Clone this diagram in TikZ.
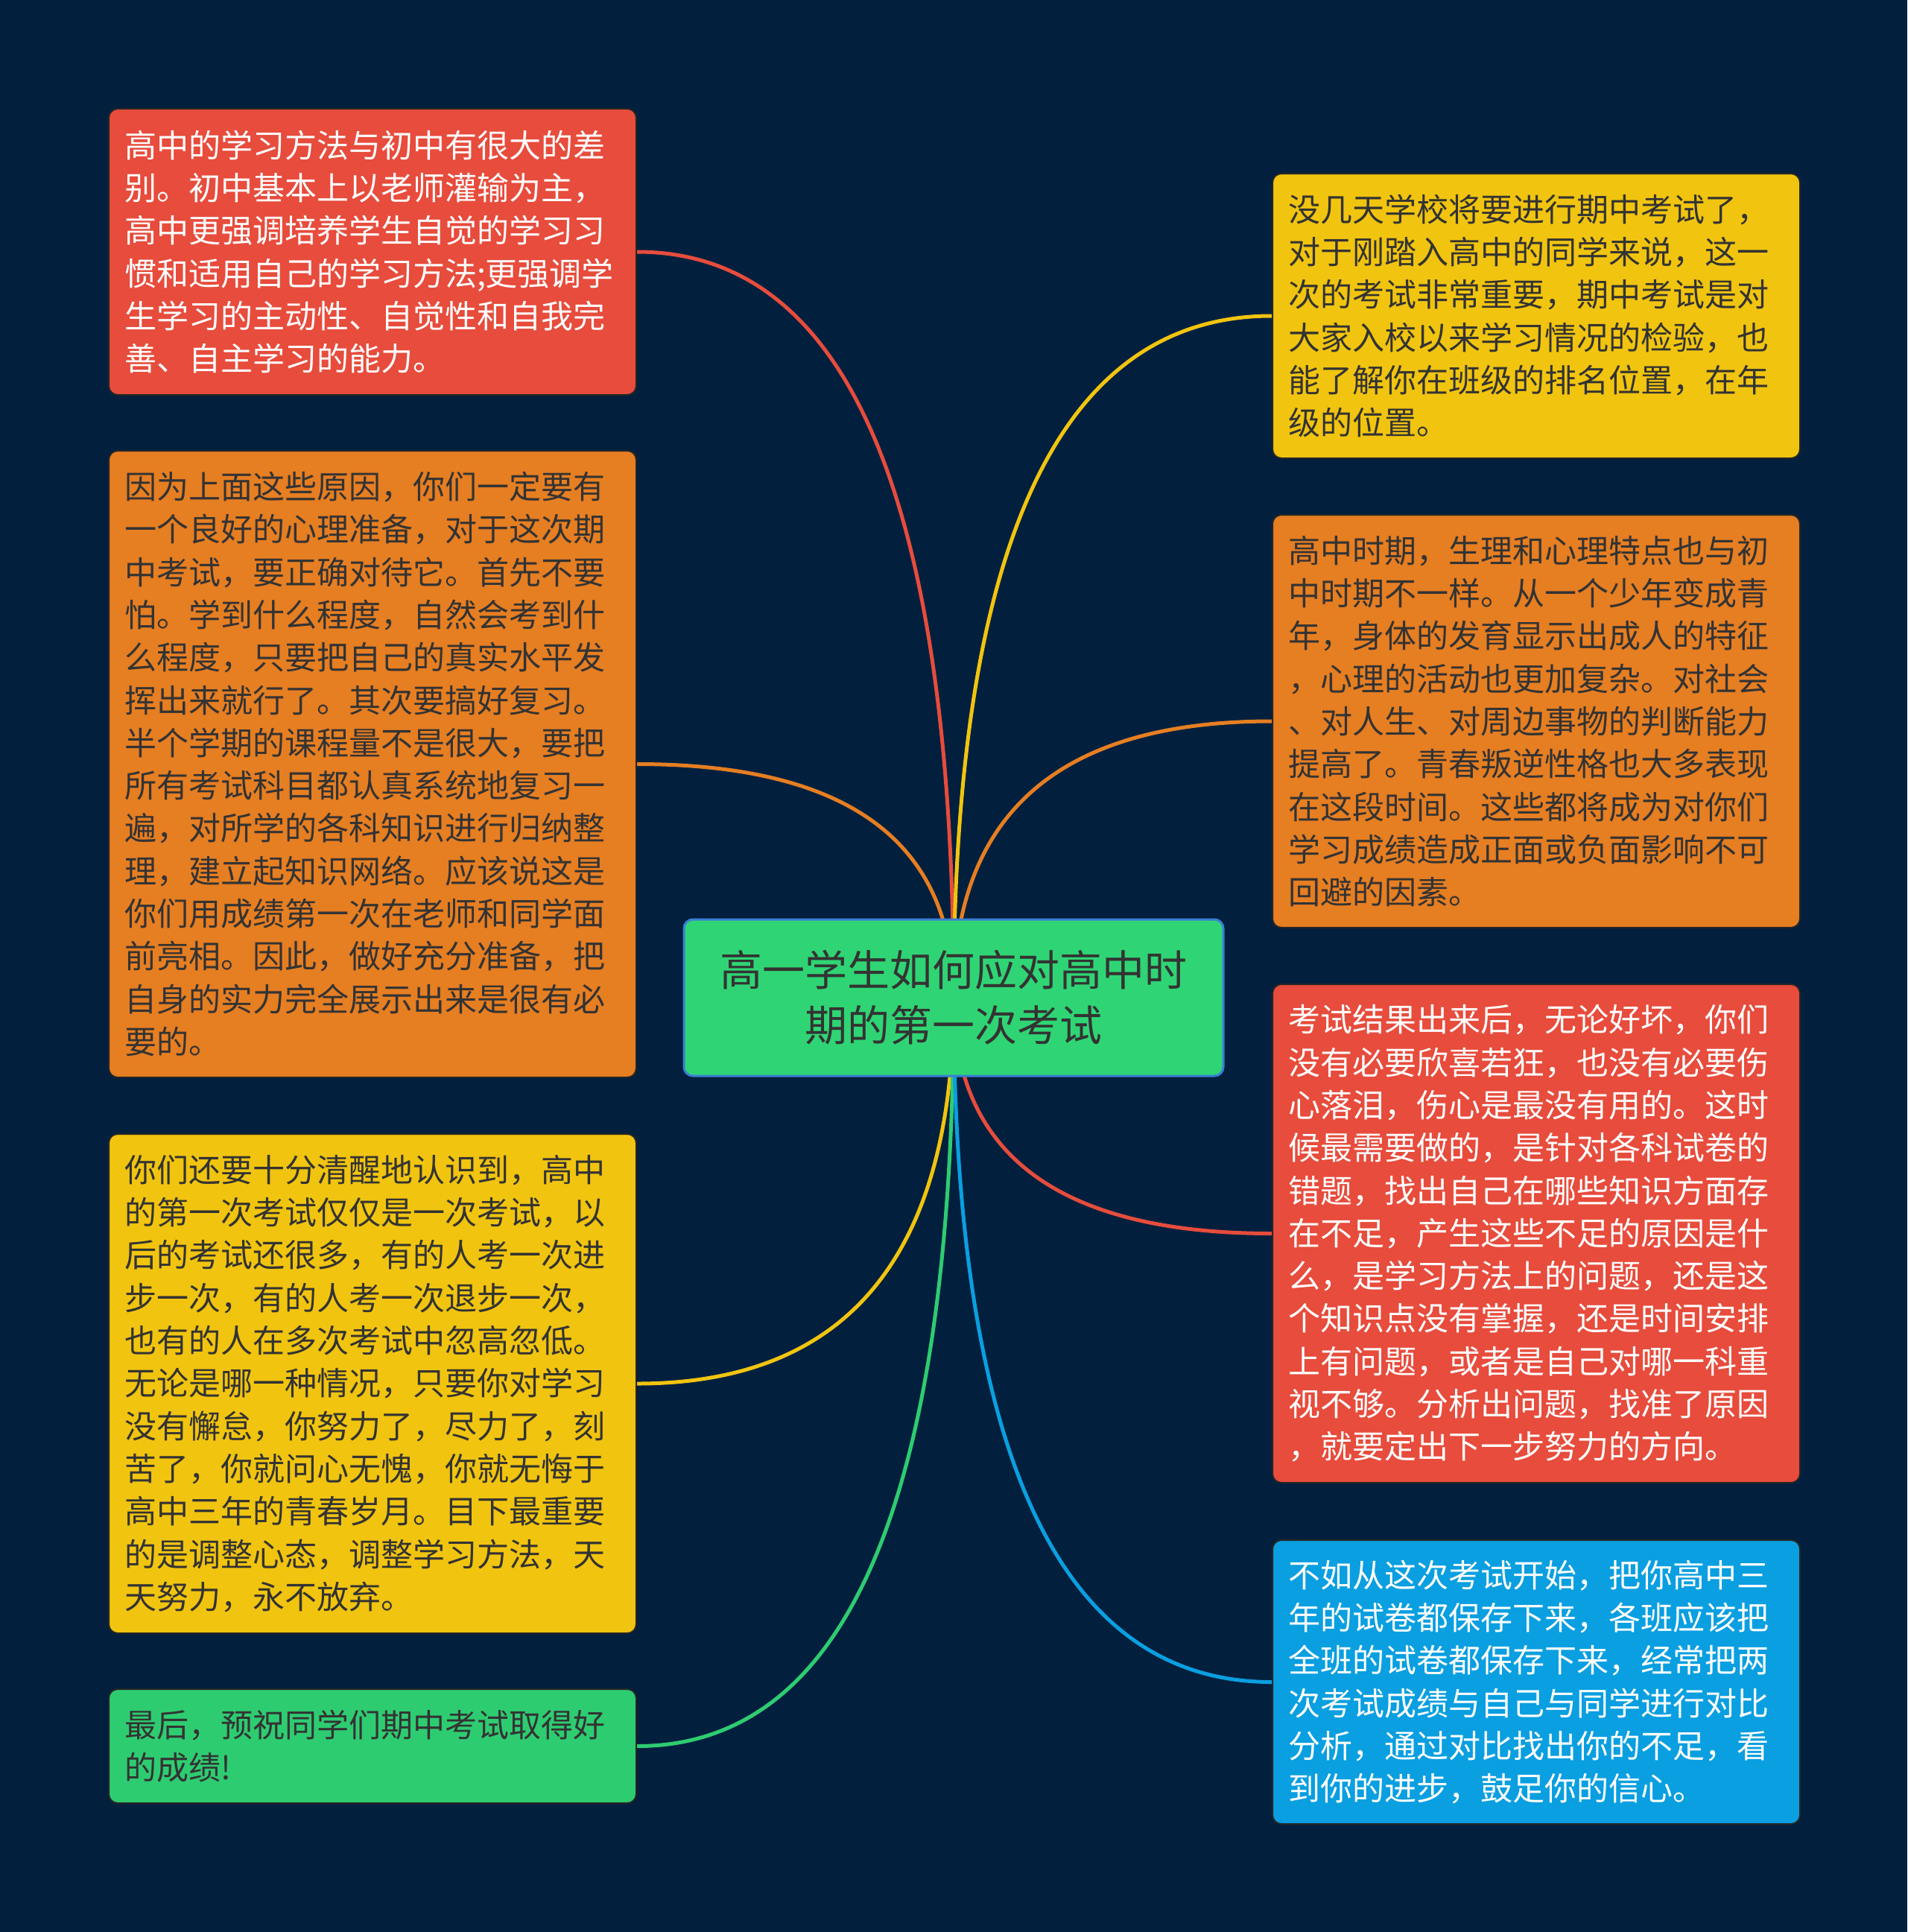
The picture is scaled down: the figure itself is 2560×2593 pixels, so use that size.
\documentclass[tikz,border=0pt]{standalone}
\usepackage{fontspec}
\newfontfamily\cjk{Noto Sans CJK SC}
\usetikzlibrary{calc}
\pgfdeclarelayer{background}
\pgfsetlayers{background,main}
\definecolor{bgc}{HTML}{02203E}
\definecolor{cred}{HTML}{E74C3C}
\definecolor{corange}{HTML}{E67E22}
\definecolor{cyellow}{HTML}{F1C40F}
\definecolor{cgreen}{HTML}{2ECC71}
\definecolor{cblue}{HTML}{0A9FE0}
\definecolor{rootgreen}{HTML}{2FD574}
\definecolor{rootborder}{HTML}{3A7FD5}
\definecolor{dtext}{HTML}{333333}
\tikzset{
  box/.style={rounded corners=12pt, draw=black!85, line width=2pt,
    anchor=north west, inner xsep=21pt, inner ysep=0pt, text width=666pt,
    align=left, font=\cjk\fontsize{43}{57.3}\selectfont},
  conn/.style={line width=5pt, line cap=round}
}
\newcommand\mmlink[3]{%
  \draw[conn, #1] (#2) .. controls ($(#2)!0.6667!(#2|-#3)$) and ($(#3)!0.6667!(#2|-#3)$) .. (#3);}
\begin{document}
\begin{tikzpicture}[x=1pt, y={(0pt,-1pt)}]
\begin{pgfonlayer}{background}
\fill[bgc] (0,0) rectangle (2560,2593);
\end{pgfonlayer}
\useasboundingbox (0,0) rectangle (2560,2593);

\node[draw=rootborder, line width=3pt, fill=rootgreen, rounded corners=12pt,
  minimum width=724pt, minimum height=210pt, align=center, text=dtext,
  font=\cjk\fontsize{57}{74}\selectfont] (root) at (1280,1339)
  {高一学生如何应对高中时\\期的第一次考试};

\node[box, fill=cred, text=white, minimum height=384pt] (l1) at (145,145) {%
高中的学习方法与初中有很大的差\\
别。初中基本上以老师灌输为主，\\
高中更强调培养学生自觉的学习习\\
惯和适用自己的学习方法;更强调学\\
生学习的主动性、自觉性和自我完\\
善、自主学习的能力。};

\node[box, fill=corange, text=dtext, minimum height=841pt] (l2) at (145,604) {%
因为上面这些原因，你们一定要有\\
一个良好的心理准备，对于这次期\\
中考试，要正确对待它。首先不要\\
怕。学到什么程度，自然会考到什\\
么程度，只要把自己的真实水平发\\
挥出来就行了。其次要搞好复习。\\
半个学期的课程量不是很大，要把\\
所有考试科目都认真系统地复习一\\
遍，对所学的各科知识进行归纳整\\
理，建立起知识网络。应该说这是\\
你们用成绩第一次在老师和同学面\\
前亮相。因此，做好充分准备，把\\
自身的实力完全展示出来是很有必\\
要的。};

\node[box, fill=cyellow, text=dtext, minimum height=670pt] (l3) at (145,1521) {%
你们还要十分清醒地认识到，高中\\
的第一次考试仅仅是一次考试，以\\
后的考试还很多，有的人考一次进\\
步一次，有的人考一次退步一次，\\
也有的人在多次考试中忽高忽低。\\
无论是哪一种情况，只要你对学习\\
没有懈怠，你努力了，尽力了，刻\\
苦了，你就问心无愧，你就无悔于\\
高中三年的青春岁月。目下最重要\\
的是调整心态，调整学习方法，天\\
天努力，永不放弃。};

\node[box, fill=cgreen, text=dtext, minimum height=153pt] (l4) at (145,2266) {%
最后，预祝同学们期中考试取得好\\
的成绩!};

\node[box, fill=cyellow, text=dtext, minimum height=382pt] (r1) at (1707,232) {%
没几天学校将要进行期中考试了，\\
对于刚踏入高中的同学来说，这一\\
次的考试非常重要，期中考试是对\\
大家入校以来学习情况的检验，也\\
能了解你在班级的排名位置，在年\\
级的位置。};

\node[box, fill=corange, text=dtext, minimum height=554pt] (r2) at (1707,690) {%
高中时期，生理和心理特点也与初\\
中时期不一样。从一个少年变成青\\
年，身体的发育显示出成人的特征\\
，心理的活动也更加复杂。对社会\\
、对人生、对周边事物的判断能力\\
提高了。青春叛逆性格也大多表现\\
在这段时间。这些都将成为对你们\\
学习成绩造成正面或负面影响不可\\
回避的因素。};

\node[box, fill=cred, text=white, minimum height=669pt] (r3) at (1707,1320) {%
考试结果出来后，无论好坏，你们\\
没有必要欣喜若狂，也没有必要伤\\
心落泪，伤心是最没有用的。这时\\
候最需要做的，是针对各科试卷的\\
错题，找出自己在哪些知识方面存\\
在不足，产生这些不足的原因是什\\
么，是学习方法上的问题，还是这\\
个知识点没有掌握，还是时间安排\\
上有问题，或者是自己对哪一科重\\
视不够。分析出问题，找准了原因\\
，就要定出下一步努力的方向。};

\node[box, fill=cblue, text=white, minimum height=381pt] (r4) at (1707,2066) {%
不如从这次考试开始，把你高中三\\
年的试卷都保存下来，各班应该把\\
全班的试卷都保存下来，经常把两\\
次考试成绩与自己与同学进行对比\\
分析，通过对比找出你的不足，看\\
到你的进步，鼓足你的信心。};

\begin{pgfonlayer}{background}
\mmlink{cred}{root.center}{l1.east}
\mmlink{corange}{root.center}{l2.east}
\mmlink{cyellow}{root.center}{l3.east}
\mmlink{cgreen}{root.center}{l4.east}
\mmlink{cyellow}{root.center}{r1.west}
\mmlink{corange}{root.center}{r2.west}
\mmlink{cred}{root.center}{r3.west}
\mmlink{cblue}{root.center}{r4.west}
\end{pgfonlayer}
\end{tikzpicture}
\end{document}
